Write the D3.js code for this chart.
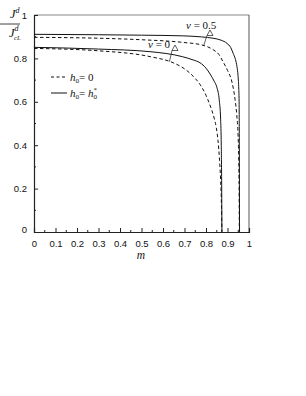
<!DOCTYPE html>
<html><head><meta charset="utf-8">
<script src="https://cdnjs.cloudflare.com/ajax/libs/d3/7.8.5/d3.min.js"></script>
<style>body{margin:0;background:#fff}svg{display:block}</style>
</head><body>
<script>
// Data
const mS05 = [0, 0.3, 0.5, 0.69, 0.78, 0.833, 0.87, 0.898, 0.915, 0.926, 0.937, 0.944, 0.949, 0.952, 0.954, 0.955, 0.956];
const jS05 = [0.911, 0.909, 0.907, 0.904, 0.899, 0.893, 0.884, 0.869, 0.850, 0.824, 0.795, 0.762, 0.72, 0.67, 0.60, 0.40, 0];
const mD05 = [0, 0.3, 0.5, 0.69, 0.78, 0.833, 0.86, 0.879, 0.90, 0.921, 0.935, 0.943, 0.949, 0.952, 0.954, 0.955];
const jD05 = [0.897, 0.893, 0.886, 0.874, 0.862, 0.840, 0.818, 0.785, 0.745, 0.690, 0.612, 0.54, 0.45, 0.35, 0.20, 0];
const mS0 = [0, 0.3, 0.54, 0.69, 0.74, 0.772, 0.80, 0.819, 0.838, 0.851, 0.862, 0.868, 0.871, 0.873, 0.874];
const jS0 = [0.851, 0.843, 0.831, 0.808, 0.793, 0.780, 0.755, 0.728, 0.695, 0.665, 0.605, 0.52, 0.40, 0.20, 0];
const mD0 = [0, 0.3, 0.54, 0.647, 0.70, 0.74, 0.772, 0.80, 0.822, 0.838, 0.848, 0.856, 0.863, 0.868, 0.872, 0.874];
const jD0 = [0.846, 0.835, 0.808, 0.780, 0.752, 0.718, 0.680, 0.630, 0.575, 0.525, 0.48, 0.42, 0.33, 0.24, 0.12, 0];
const xTicks = [0, 0.1, 0.2, 0.3, 0.4, 0.5, 0.6, 0.7, 0.8, 0.9, 1];
const xTickLabels = ["0", "0.1", "0.2", "0.3", "0.4", "0.5", "0.6", "0.7", "0.8", "0.9", "1"];
const yTicks = [0, 0.2, 0.4, 0.6, 0.8, 1];
const yTickLabels = ["0", "0.2", "0.4", "0.6", "0.8", "1"];

const W = 306, H = 396;
const L = 34, R = 249, T = 15, B = 232;
const svg = d3.select("body").append("svg").attr("width", W).attr("height", H);
const x = d3.scaleLinear().domain([0, 1]).range([L, R]);
const y = d3.scaleLinear().domain([0, 1]).range([B, T]);

// frame
svg.append("line").attr("x1", L).attr("x2", R).attr("y1", T).attr("y2", T).attr("stroke", "#888").attr("stroke-width", 1.2);
svg.append("line").attr("x1", R).attr("x2", R).attr("y1", T).attr("y2", B).attr("stroke", "#555").attr("stroke-width", 1);

// axes
const xAxis = d3.axisBottom(x).tickValues(xTicks).tickSize(-4).tickPadding(8).tickFormat((d, i) => xTickLabels[i]);
const gx = svg.append("g").attr("transform", `translate(0,${B})`).call(xAxis);
const yAxis = d3.axisLeft(y).tickValues(yTicks).tickSize(-4).tickPadding(7).tickFormat((d, i) => yTickLabels[i]);
const gy = svg.append("g").attr("transform", `translate(${L},0)`).call(yAxis);
[gx, gy].forEach(g => {
  g.select(".domain").attr("stroke", "#222").attr("stroke-width", 1.2);
  g.selectAll(".tick line").attr("stroke", "#222");
  g.selectAll("text").attr("font-family", "Liberation Sans, Arial, sans-serif").attr("font-size", 9.5).attr("fill", "#111");
});
gy.selectAll(".tick").filter(d => d === 1).select("line").remove();
gy.selectAll(".tick").filter(d => d === 0).select("text").attr("dy", "0.1em");
// minor ticks
const xMinor = d3.range(0.05, 1, 0.1);
svg.append("g").selectAll("line").data(xMinor).join("line")
  .attr("x1", d => x(d)).attr("x2", d => x(d)).attr("y1", B).attr("y2", B - 2).attr("stroke", "#222");
const yMinor = [0.1, 0.3, 0.5, 0.7, 0.9];
svg.append("g").selectAll("line").data(yMinor).join("line")
  .attr("x1", L).attr("x2", L + 2).attr("y1", d => y(d)).attr("y2", d => y(d)).attr("stroke", "#222");

// curves
const line = d3.line().x(d => x(d[0])).y(d => y(d[1])).curve(d3.curveMonotoneX);
const series = [
  {m: mS05, j: jS05, dash: null},
  {m: mD05, j: jD05, dash: "3.5,2.5"},
  {m: mS0, j: jS0, dash: null},
  {m: mD0, j: jD0, dash: "3.5,2.5"}
];
series.forEach(s => {
  svg.append("path").datum(s.m.map((v, i) => [v, s.j[i]]))
    .attr("d", line).attr("fill", "none").attr("stroke", "#111").attr("stroke-width", 1)
    .attr("stroke-dasharray", s.dash);
});

// annotations
const serif = "Liberation Serif, Times New Roman, serif";
function label(tx, ty, val, tri, target) {
  const t = svg.append("text").attr("x", tx).attr("y", ty).attr("font-family", serif).attr("font-size", 11).attr("fill", "#111");
  t.append("tspan").attr("font-style", "italic").text("v");
  t.append("tspan").text(" = " + val);
  const [cx, cy] = tri;
  svg.append("path").attr("d", `M${cx},${cy - 4}L${cx + 3},${cy + 1.5}L${cx - 3},${cy + 1.5}Z`)
    .attr("fill", "none").attr("stroke", "#333").attr("stroke-width", 0.8);
  svg.append("line").attr("x1", cx - 3).attr("y1", cy + 1.5).attr("x2", x(target[0])).attr("y2", y(target[1]))
    .attr("stroke", "#333").attr("stroke-width", 0.8);
}
label(186, 29, "0.5", [210, 34], [0.79, 0.861]);
label(148, 48, "0", [175, 49], [0.63, 0.785]);

// legend
const leg = [{dash: "3,2.5", ty: 77, sup: "0"}, {dash: null, ty: 93, sup: "*"}];
leg.forEach(l => {
  svg.append("line").attr("x1", 51).attr("x2", 67).attr("y1", l.ty).attr("y2", l.ty)
    .attr("stroke", "#111").attr("stroke-width", 1).attr("stroke-dasharray", l.dash);
  const t = svg.append("text").attr("x", 70).attr("y", l.ty + 4).attr("font-family", serif).attr("font-size", 11).attr("fill", "#111");
  t.append("tspan").attr("font-style", "italic").text("h");
  t.append("tspan").attr("font-size", 7).attr("dy", 2).text("0");
  if (l.sup === "0") {
    t.append("tspan").attr("dy", -2).text("= 0");
  } else {
    t.append("tspan").attr("dy", -2).text("= ");
    t.append("tspan").attr("font-style", "italic").text("h");
    t.append("tspan").attr("font-size", 7).attr("dy", 2).text("0");
    t.append("tspan").attr("font-size", 7).attr("dx", -3.5).attr("dy", -7).text("*");
  }
});

// y-axis title (fraction)
const yt = svg.append("g");
const num = yt.append("text").attr("x", 10).attr("y", 18).attr("font-family", serif).attr("font-size", 12.5).attr("fill", "#111");
num.append("tspan").attr("font-style", "italic").text("J");
num.append("tspan").attr("font-style", "italic").attr("font-size", 8).attr("dy", -5).text("d");
yt.append("line").attr("x1", 0).attr("x2", 20).attr("y1", 24).attr("y2", 24).attr("stroke", "#111").attr("stroke-width", 0.8);
const den = yt.append("text").attr("x", 9).attr("y", 37).attr("font-family", serif).attr("font-size", 12.5).attr("fill", "#111");
den.append("tspan").attr("font-style", "italic").text("J");
den.append("tspan").attr("font-style", "italic").attr("font-size", 8).attr("dy", -6).text("d");
den.append("tspan").attr("font-style", "italic").attr("font-size", 6.5).attr("dx", -4.5).attr("dy", 9).text("cL");

// x-axis title
svg.append("text").attr("x", 141).attr("y", 259).attr("text-anchor", "middle").attr("font-family", serif)
  .attr("font-style", "italic").attr("font-size", 11.5).attr("fill", "#111").text("m");
</script>
</body></html>
